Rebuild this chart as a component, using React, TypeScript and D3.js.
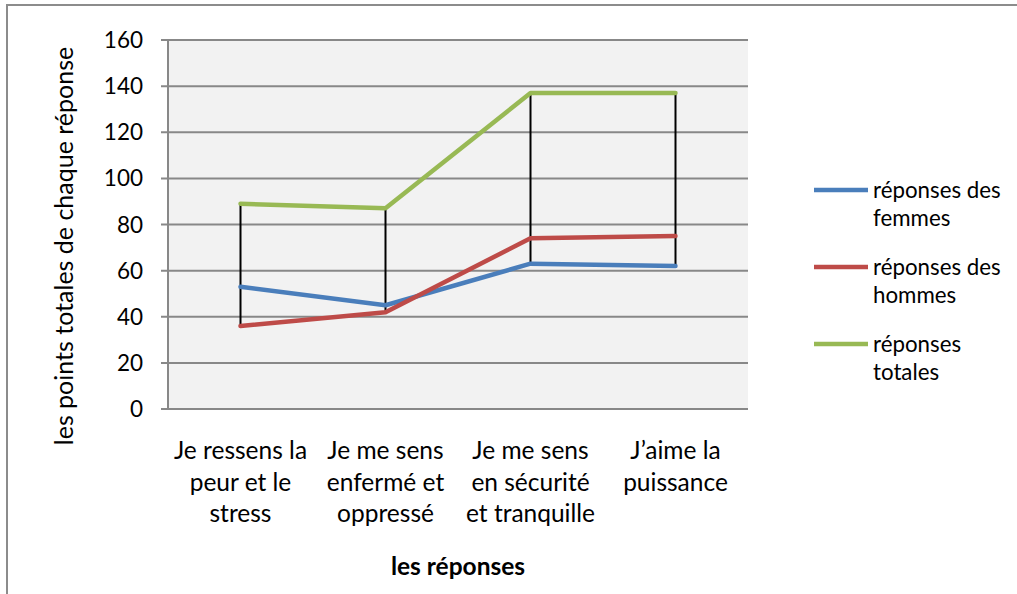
import React from "react";
import * as d3 from "d3";

const categories: string[][] = [
  ["Je ressens la", "peur et le", "stress"],
  ["Je me sens", "enfermé et", "oppressé"],
  ["Je me sens", "en sécurité", "et tranquille"],
  ["J’aime la", "puissance"],
];
const femmes = [53, 45, 63, 62];
const hommes = [36, 42, 74, 75];
const totales = [89, 87, 137, 137];
const yTicks = [0, 20, 40, 60, 80, 100, 120, 140, 160];
const seriesNames = [["réponses des", "femmes"], ["réponses des", "hommes"], ["réponses", "totales"]];
const seriesColors = ["#4a7ebb", "#be4b48", "#98b954"];

const FONT = "Lato, 'Open Sans', sans-serif";

export default function App() {
  const W = 1017, H = 594;
  const left = 168, right = 748, top = 40, bottom = 409;
  const x = d3.scaleBand<number>().domain(d3.range(categories.length)).range([left, right]);
  const y = d3.scaleLinear().domain([0, 160]).range([bottom, top]);
  const cx = (i: number) => (x(i) as number) + x.bandwidth() / 2;
  const line = d3.line<number>().x((_, i) => cx(i)).y((v) => y(v));
  const series = [femmes, hommes, totales];

  return (
    <svg width={W} height={H} style={{ position: "absolute", left: 0, top: 0, fontFamily: FONT }}>
      <rect x={0} y={0} width={W} height={H} fill="#fff" />
      <rect x={7} y={5} width={1200} height={800} fill="none" stroke="#8c8c8c" strokeWidth={2} />
      <rect x={left} y={top} width={right - left} height={bottom - top} fill="#f2f2f2" />
      {yTicks.map((t) => (
        <g key={t}>
          <line x1={left - 7} x2={right} y1={y(t)} y2={y(t)} stroke="#888" strokeWidth={2} />
          <text x={143} y={y(t)} dy="0.36em" textAnchor="end" fontSize={22.5} fill="#000">{t}</text>
        </g>
      ))}
      <line x1={left} x2={left} y1={top} y2={bottom} stroke="#888" strokeWidth={2} />
      {categories.map((_, i) => {
        const vals = series.map((s) => s[i]);
        return (
          <line key={i} x1={cx(i)} x2={cx(i)} y1={y(d3.max(vals) as number)} y2={y(d3.min(vals) as number)} stroke="#000" strokeWidth={2} />
        );
      })}
      {series.map((s, k) => (
        <path key={k} d={line(s) || ""} fill="none" stroke={seriesColors[k]} strokeWidth={4.5} strokeLinecap="round" strokeLinejoin="round" />
      ))}
      {categories.map((lines, i) => (
        <text key={i} x={cx(i)} textAnchor="middle" fontSize={24.5} fill="#000">
          {lines.map((l, j) => (
            <tspan key={j} x={cx(i)} y={459 + j * 31.5}>{l}</tspan>
          ))}
        </text>
      ))}
      <text x={(left + right) / 2} y={575} textAnchor="middle" fontSize={24.5} fontWeight="bold" fill="#000">les réponses</text>
      <text transform={`translate(73,246) rotate(-90)`} textAnchor="middle" fontSize={25} fill="#000">les points totales de chaque réponse</text>
      {seriesNames.map((nm, k) => {
        const ly = 190 + k * 77;
        return (
          <g key={k}>
            <line x1={814} x2={868} y1={ly} y2={ly} stroke={seriesColors[k]} strokeWidth={4.5} />
            {nm.map((t, j) => (
              <text key={j} x={873} y={ly + 8 + j * 28} fontSize={22.3} fill="#000">{t}</text>
            ))}
          </g>
        );
      })}
    </svg>
  );
}
